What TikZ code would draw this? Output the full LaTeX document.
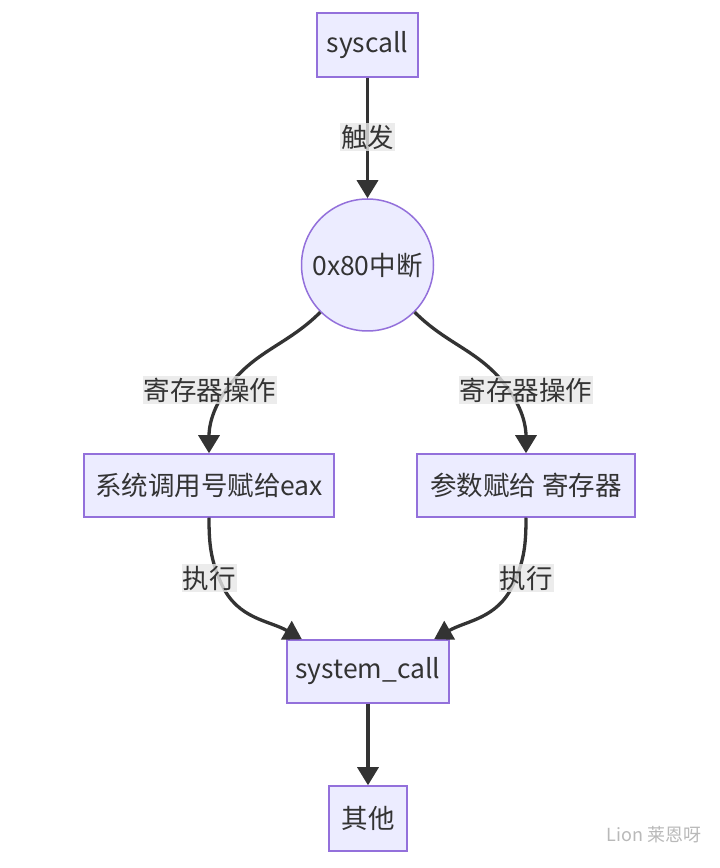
\documentclass[tikz,border=0pt]{standalone}
\usepackage{fontspec}
\setmainfont{Noto Sans CJK SC}
\usetikzlibrary{arrows.meta}
\definecolor{boxfill}{HTML}{ECECFF}
\definecolor{boxline}{HTML}{9370DB}
\definecolor{edgeline}{HTML}{333333}
\definecolor{lblfill}{HTML}{E8E8E8}
\tikzset{
  box/.style={draw=boxline, fill=boxfill, line width=1.5pt, text=edgeline, inner sep=0pt, minimum height=63pt},
  ring/.style={circle, draw=boxline, fill=boxfill, line width=1.5pt, text=edgeline, inner sep=0pt, minimum size=132pt},
  edge/.style={draw=edgeline, line width=3.3pt, -{Triangle[length=18pt,width=21pt]}},
  lbl/.style={fill=lblfill, fill opacity=.8, text opacity=1, text=edgeline, inner xsep=1pt, inner ysep=1.5pt}
}
\begin{document}
\begin{tikzpicture}[x=1pt, y=1pt, font=\fontsize{26.5}{30}\selectfont]
\useasboundingbox[fill=white] (0,0) rectangle (720,868);
\node[box, minimum width=101pt, minimum height=64pt] (sys) at (367.5,823) {syscall};
\node[ring] (int) at (367.5,603) {0x80中断};
\node[box, minimum width=250pt] (regno) at (209,382.5) {系统调用号赋给eax};
\node[box, minimum width=218pt] (args) at (526,382.5) {参数赋给 寄存器};
\node[box, minimum width=162pt] (call) at (368,196.5) {system\_call};
\node[box, minimum width=78pt, minimum height=65pt] (other) at (368,49.5) {其他};
\coordinate (bendA) at (226,478);
\coordinate (bendB) at (509,478);
\coordinate (bendC) at (222,283);
\coordinate (bendD) at (513,283);
\draw[edge] (sys) -- (int);
\draw[edge] (int.225) to[out=-135,in=55] (bendA) to[out=-125,in=90] (regno.north);
\draw[edge] (int.-45) to[out=-45,in=125] (bendB) to[out=-55,in=90] (args.north);
\draw[edge] (regno.south) to[out=-90,in=115] (bendC) to[out=-65,in=150] (call.154);
\draw[edge] (args.south) to[out=-90,in=65] (bendD) to[out=-115,in=30] (call.26);
\draw[edge] (call) -- (other);
\node[lbl] (fire) at (367.5,731) {触发};
\node[lbl] (opA) at (210,478) {寄存器操作};
\node[lbl] (opB) at (526,478) {寄存器操作};
\node[lbl] (runA) at (209,290) {执行};
\node[lbl] (runB) at (526,290) {执行};
\node[text=gray!55, font=\fontsize{18}{20}\selectfont, anchor=west] (mark) at (603,33) {Lion 莱恩呀};
\end{tikzpicture}
\end{document}
